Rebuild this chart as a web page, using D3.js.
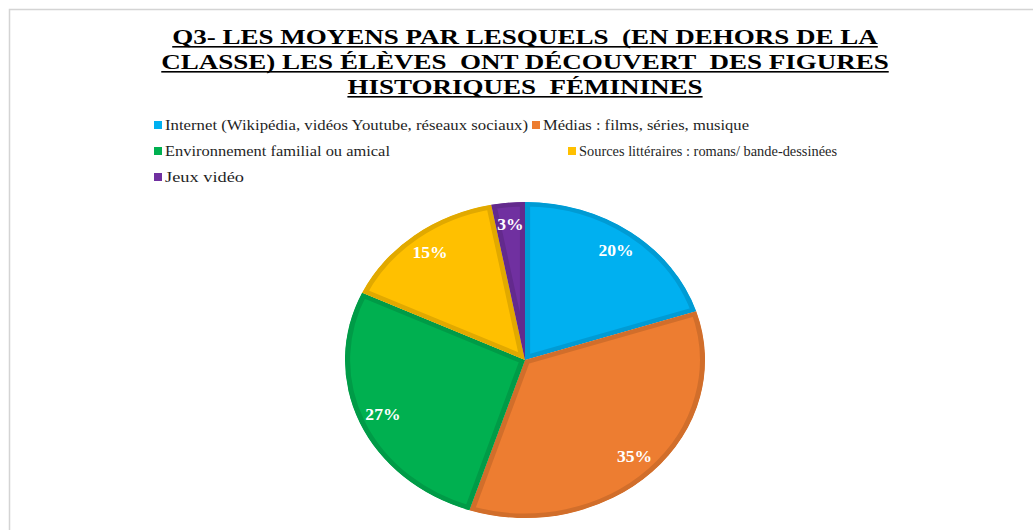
<!DOCTYPE html>
<html>
<head>
<meta charset="utf-8">
<script src="https://cdn.jsdelivr.net/npm/d3@7"></script>
<style>
  body { margin: 0; background: #fff; }
  svg { display: block; }
</style>
</head>
<body>
<svg id="chart" width="1033" height="530"></svg>
<script>
var titleLines = [
    "Q3- LES MOYENS PAR LESQUELS  (EN DEHORS DE LA",
    "CLASSE) LES ÉLÈVES  ONT DÉCOUVERT  DES FIGURES",
    "HISTORIQUES  FÉMININES"
];
var categories = [
    "Internet (Wikipédia, vidéos Youtube, réseaux sociaux)",
    "Médias : films, séries, musique",
    "Environnement familial ou amical",
    "Sources littéraires : romans/ bande-dessinées",
    "Jeux vidéo"
];
var values = [20, 35, 27, 15, 3];
var colors = ["#00B0F0", "#ED7D31", "#00B050", "#FFC000", "#7030A0"];

var SERIF = "Liberation Serif, Times New Roman, serif";
var svg = d3.select("#chart");

// Chart area border (cut by the window on right and bottom)
svg.append("rect")
    .attr("x", 9.5).attr("y", 9.5)
    .attr("width", 1100).attr("height", 600)
    .attr("fill", "none")
    .attr("stroke", "#d4d4d4")
    .attr("stroke-width", 1.5);

// Title, underlined, stretched horizontally like the picture
var titleWidth = 706;
var title = svg.append("g");
var titleTexts = [];
titleLines.forEach(function(line, i) {
    var t = title.append("text")
        .attr("x", 0)
        .attr("y", 44 + i * 25)
        .attr("text-anchor", "middle")
        .attr("font-family", SERIF)
        .attr("font-size", 22)
        .attr("font-weight", "bold")
        .attr("fill", "#000")
        .style("white-space", "pre")
        .text(line);
    titleTexts.push(t);
});
var sx = titleWidth / titleTexts[0].node().getComputedTextLength();
title.attr("transform", "translate(525,0) scale(" + sx + ",1)");
titleTexts.forEach(function(t, i) {
    var w = t.node().getComputedTextLength();
    title.append("rect")
        .attr("x", -w / 2).attr("y", 46 + i * 25)
        .attr("width", w).attr("height", 1.6)
        .attr("fill", "#000");
});

// Legend (layout as in the picture)
var legendPos = [[154, 125], [532, 125], [154, 151], [568, 151], [154, 177]];
var legendWidths = [363, 206, 225, 258, 79];
var legend = svg.append("g").selectAll("g")
    .data(categories)
    .enter()
    .append("g")
    .attr("transform", function(d, i) { return "translate(" + legendPos[i][0] + "," + legendPos[i][1] + ")"; });

legend.append("rect")
    .attr("x", 0).attr("y", -4)
    .attr("width", 8).attr("height", 8)
    .attr("fill", function(d, i) { return colors[i]; });

legend.append("text")
    .attr("x", 11).attr("y", 4.5)
    .attr("font-family", SERIF)
    .attr("font-size", 14)
    .attr("fill", "#1f1f1f")
    .attr("textLength", function(d, i) { return legendWidths[i]; })
    .attr("lengthAdjust", "spacingAndGlyphs")
    .text(function(d) { return d; });

// Pie (elliptic, as in the original picture)
var cx = 525, cy = 360, rx = 180, ry = 158;
var pieMaker = d3.pie().sort(null).value(function(d) { return d; });
var arcMaker = d3.arc().innerRadius(0).outerRadius(ry);
var labelArc = d3.arc().innerRadius(ry * 0.86).outerRadius(ry * 0.86);
var arcsData = pieMaker(values);

var defs = svg.append("defs");
defs.selectAll("clipPath")
    .data(arcsData)
    .enter()
    .append("clipPath")
    .attr("id", function(d, i) { return "slice_" + i; })
    .append("path")
    .attr("d", arcMaker);

var pie = svg.append("g")
    .attr("transform", "translate(" + cx + "," + cy + ") scale(" + (rx / ry) + ",1)");

// Each slice keeps a darker border on its inside (clipped stroke)
pie.selectAll("path.slice")
    .data(arcsData)
    .enter()
    .append("path")
    .attr("class", "slice")
    .attr("d", arcMaker)
    .attr("clip-path", function(d, i) { return "url(#slice_" + i + ")"; })
    .attr("fill", function(d, i) { return colors[i]; })
    .attr("stroke", function(d, i) { return d3.color(colors[i]).darker(0.35); })
    .attr("stroke-width", 9);

// Labels
var labels = svg.append("g")
    .attr("transform", "translate(" + cx + "," + cy + ")");
labels.selectAll("text")
    .data(arcsData)
    .enter()
    .append("text")
    .attr("transform", function(d) {
        var c = labelArc.centroid(d);
        return "translate(" + (c[0] * rx / ry) + "," + c[1] + ") scale(1.1,1)";
    })
    .attr("dy", "0.35em")
    .attr("text-anchor", "middle")
    .attr("font-family", SERIF)
    .attr("font-size", 16)
    .attr("font-weight", "bold")
    .attr("fill", "#fff")
    .text(function(d) { return d.data + "%"; });
</script>
</body>
</html>
